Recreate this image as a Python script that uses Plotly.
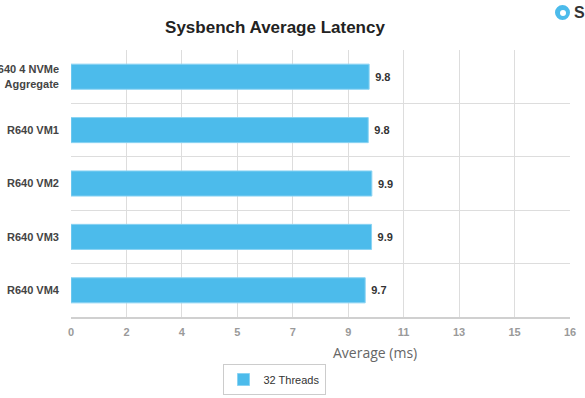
import plotly.graph_objects as go

categories = ["R640 4 NVMe<br>Aggregate", "R640 VM1", "R640 VM2", "R640 VM3", "R640 VM4"]
latency_ms = [9.84, 9.81, 9.93, 9.92, 9.71]
series_name = "32 Threads"
tick_step = 1.83
tick_labels = ["0", "2", "4", "5", "7", "9", "11", "13", "15", "16"]

W, H = 585, 398
ML, MR, MT, MB = 71, 15, 50, 81
PW, PH = W - ML - MR, H - MT - MB

def px(xp):
    return (xp - ML) / PW

def py(yp):
    return (H - MB - yp) / PH

tickvals = [i * tick_step for i in range(len(tick_labels))]

fig = go.Figure()
fig.add_trace(go.Bar(
    y=categories, x=latency_ms, orientation="h", name=series_name,
    width=0.47,
    marker=dict(color="#4CBBEB", line=dict(color="#8AD3F3", width=1)),
    texttemplate="\u00a0%{x:.1f}", textposition="outside",
    textfont=dict(family="Liberation Sans, Arial", size=11, color="#333333", weight="bold"),
    cliponaxis=False, showlegend=True,
))

fig.update_layout(
    width=W, height=H,
    margin=dict(l=ML, r=MR, t=MT, b=MB, autoexpand=False),
    paper_bgcolor="white", plot_bgcolor="white",
    title=dict(text="Sysbench Average Latency", xref="container", x=275 / W, xanchor="center",
               yref="container", y=1 - 21 / H, yanchor="top",
               font=dict(family="Liberation Sans, Arial", size=17, color="#222222", weight="bold")),
    xaxis=dict(range=[0, tickvals[-1]], tickmode="array", tickvals=tickvals, ticktext=tick_labels,
               showgrid=True, gridcolor="#DDDDDD", gridwidth=1, zeroline=False,
               showline=True, linecolor="#D0D0D0", linewidth=2, automargin=False,
               ticks="", ticklabelstandoff=4,
               tickfont=dict(family="Liberation Sans, Arial", size=11, color="#9A9A9A", weight="bold")),
    yaxis=dict(type="category", autorange="reversed", tickson="boundaries", automargin=False,
               showgrid=True, gridcolor="#DDDDDD", gridwidth=1, ticks="",
               showline=False, ticklabelstandoff=11,
               tickfont=dict(family="Liberation Sans, Arial", size=11, color="#444444", weight="bold")),
    legend=dict(orientation="h", x=px(274), xanchor="center", y=py(364), yanchor="top",
                bordercolor="#CCCCCC", borderwidth=1, itemwidth=30,
                font=dict(family="Liberation Sans, Arial", size=11, color="#333333")),
)

fig.add_annotation(text="Average (ms)", xref="paper", yref="paper", x=px(375), y=py(352),
                   xanchor="center", yanchor="middle", showarrow=False,
                   font=dict(family="Open Sans", size=14, color="#666666"))

# logo fragment at top right
fig.add_shape(type="circle", xref="paper", yref="paper", x0=px(555), x1=px(570), y0=py(20), y1=py(5),
              fillcolor="#4CBBEB", line=dict(width=0))
fig.add_shape(type="circle", xref="paper", yref="paper", x0=px(560), x1=px(566), y0=py(16), y1=py(10),
              fillcolor="white", line=dict(width=0))
fig.add_annotation(text="S", xref="paper", yref="paper", x=px(572), y=py(12), xanchor="left",
                   yanchor="middle", showarrow=False,
                   font=dict(family="Liberation Sans, Arial", size=16, color="#333333", weight="bold"))

fig.write_html("out.html", config={"displayModeBar": False},
               post_script="document.body.style.margin='0';document.body.style.overflow='hidden';")
